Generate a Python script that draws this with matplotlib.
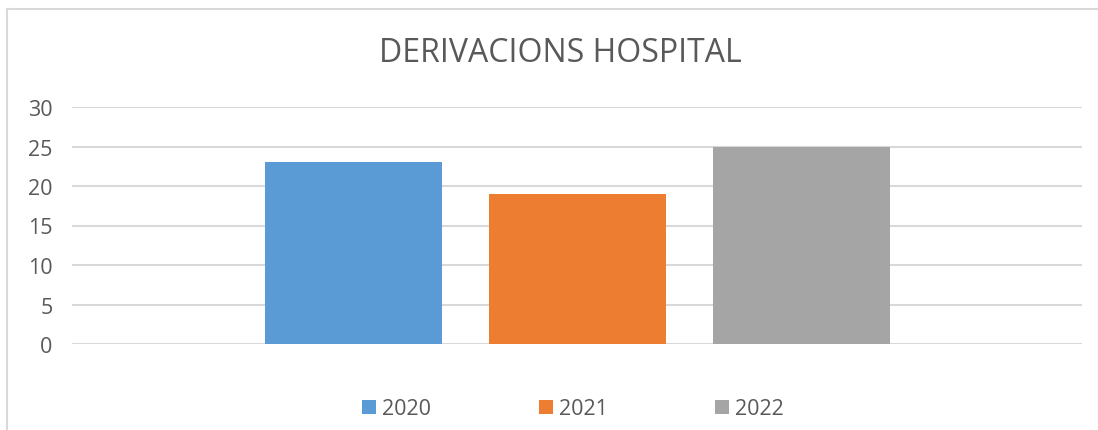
import numpy as np
import matplotlib.pyplot as plt
from matplotlib.patches import Patch
from matplotlib.lines import Line2D

# data
series = ['2020', '2021', '2022']
values = [23, 19, 25]
colors = ['#5b9bd5', '#ed7d31', '#a5a5a5']

plt.rcParams['font.family'] = ['Open Sans', 'DejaVu Sans']
text_color = '#595959'
grid_color = '#d9d9d9'

W, H = 1098, 431
fig = plt.figure(figsize=(W / 100, H / 100), dpi=100)
ax = fig.add_axes([72 / W, 1 - 345 / H, (1082 - 72) / W, (345 - 108) / H])

# one category, three bars side by side
bar_w = 177 / 1010
step = 224 / 1010
offsets = (np.arange(len(series)) - (len(series) - 1) / 2) * step
for x, v, c, s in zip(offsets, values, colors, series):
    ax.bar(x, v, width=bar_w, color=c, label=s, zorder=3)

ax.set_xlim(-0.5, 0.5)
ax.set_ylim(0, 30)
ax.set_yticks(np.arange(0, 31, 5))
ax.set_xticks([])
ax.yaxis.grid(True, color=grid_color, linewidth=1.5, zorder=0)
ax.tick_params(axis='y', length=0, pad=14, labelsize=15.5, labelcolor=text_color)
for sp in ax.spines.values():
    sp.set_visible(False)

fig.text(560 / W, 1 - 54 / H, 'DERIVACIONS HOSPITAL', ha='center', va='center',
         fontsize=23, color=text_color)

# chart border (only left and top visible in the crop)
fig.add_artist(Line2D([7 / W, 7 / W], [0, 1 - 10 / H], color=grid_color, linewidth=1.5))
fig.add_artist(Line2D([7 / W, 1], [1 - 10 / H, 1 - 10 / H], color=grid_color, linewidth=1.5))

handles = [Patch(facecolor=c, edgecolor='none') for c in colors]
fig.legend(handles, series, loc='center', bbox_to_anchor=(573 / W, 1 - 410 / H),
           ncol=3, frameon=False, handlelength=0.65, handleheight=0.65,
           handletextpad=0.28, columnspacing=5.0, fontsize=15.5, labelcolor=text_color)

fig.savefig('out.png', dpi=100)
